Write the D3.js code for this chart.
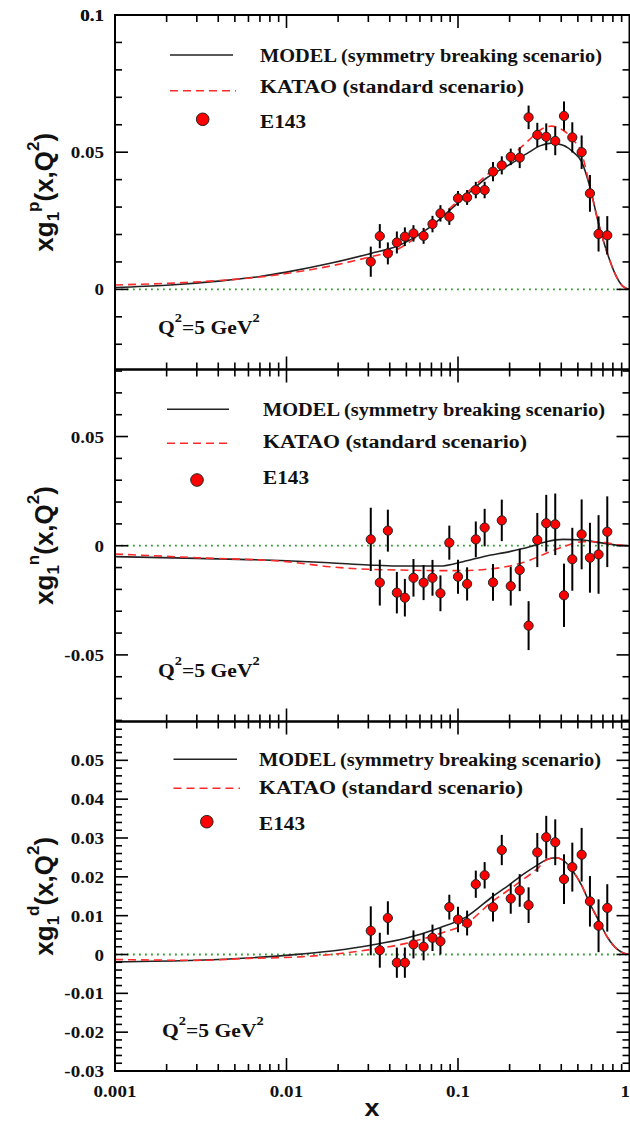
<!DOCTYPE html>
<html><head><meta charset="utf-8">
<script src="https://cdn.jsdelivr.net/npm/d3@7/dist/d3.min.js"></script>
<style>body{margin:0;background:#fff}svg{display:block}</style>
</head><body><svg id="c" width="630" height="1121"></svg>
<script>
// ---------- DATA ----------
const xE143 = [0.031,0.035,0.039,0.044,0.049,0.055,0.063,0.071,0.079,0.089,0.100,0.113,0.127,0.143,0.160,0.180,0.203,0.229,0.258,0.290,0.327,0.369,0.415,0.464,0.526,0.588,0.660,0.742];

const g1pVal = [0.0101,0.0194,0.0131,0.0171,0.0192,0.0204,0.0195,0.0238,0.0277,0.0265,0.0332,0.0335,0.0362,0.0362,0.0429,0.0452,0.0483,0.0480,0.0627,0.0563,0.0556,0.0541,0.0632,0.0554,0.0500,0.0350,0.0202,0.0197];
const g1pErr = [0.0055,0.0044,0.0040,0.0040,0.0034,0.0030,0.0029,0.0030,0.0030,0.0030,0.0027,0.0027,0.0030,0.0030,0.0035,0.0033,0.0030,0.0038,0.0043,0.0044,0.0049,0.0052,0.0053,0.0055,0.0061,0.0067,0.0064,0.0070];

const g1nVal = [0.0029,-0.0169,0.0069,-0.0215,-0.0238,-0.0147,-0.0169,-0.0147,-0.0218,0.0014,-0.0142,-0.0175,0.0029,0.0083,-0.0168,0.0116,-0.0185,-0.0111,-0.0366,0.0026,0.0103,0.0098,-0.0227,-0.0062,0.0052,-0.0055,-0.0040,0.0064];
const g1nErr = [0.0145,0.0105,0.0096,0.0095,0.0086,0.0086,0.0080,0.0082,0.0082,0.0078,0.0078,0.0076,0.0082,0.0086,0.0084,0.0095,0.0089,0.0097,0.0112,0.0124,0.0130,0.0141,0.0145,0.0144,0.0160,0.0160,0.0180,0.0162];

const g1dVal = [0.0061,0.0011,0.0094,-0.0021,-0.0021,0.0026,0.0020,0.0043,0.0034,0.0122,0.0090,0.0081,0.0181,0.0204,0.0122,0.0269,0.0144,0.0165,0.0127,0.0263,0.0302,0.0289,0.0194,0.0225,0.0257,0.0137,0.0074,0.0120];
const g1dErr = [0.0063,0.0045,0.0043,0.0039,0.0039,0.0036,0.0035,0.0034,0.0034,0.0032,0.0033,0.0032,0.0035,0.0034,0.0037,0.0039,0.0039,0.0042,0.0046,0.0050,0.0055,0.0059,0.0064,0.0063,0.0069,0.0065,0.0068,0.0061];

// model curves
const pModelX = [0.001,0.002,0.004,0.007,0.01,0.018,0.031,0.044,0.069,0.107,0.146,0.2,0.26,0.3,0.35,0.41,0.47,0.526,0.5875,0.66,0.742,0.84,0.92,1];
const pModelY = [0.0007,0.0015,0.003,0.0047,0.0063,0.0095,0.0131,0.0157,0.0228,0.0332,0.0405,0.0455,0.0500,0.0523,0.0533,0.0525,0.0500,0.0465,0.0374,0.0240,0.0132,0.0046,0.0010,0];
const pKataoY = [0.0016,0.0022,0.0032,0.0045,0.0058,0.0085,0.0119,0.0145,0.0232,0.0340,0.0415,0.0480,0.0545,0.0580,0.0595,0.0580,0.0545,0.0496,0.0374,0.0240,0.0132,0.0046,0.0010,0];

const nModelX = [0.001,0.003,0.01,0.0178,0.03,0.0438,0.0783,0.107,0.146,0.2,0.262,0.327,0.41,0.535,0.67,0.84,1];
const nModelY = [-0.0050,-0.0058,-0.0069,-0.0078,-0.0088,-0.0093,-0.0093,-0.0073,-0.0047,-0.0027,-0.0005,0.0018,0.0029,0.0026,0.0014,0.0003,0];
const nKataoY = [-0.0038,-0.0055,-0.0073,-0.0096,-0.0108,-0.0111,-0.0114,-0.0114,-0.0108,-0.0093,-0.0066,-0.0035,-0.0005,0.0018,0.0018,0.0004,0];

const dModelX = [0.001,0.003,0.006,0.012,0.02,0.031,0.049,0.0783,0.1118,0.16,0.2,0.229,0.29,0.327,0.37,0.41,0.464,0.526,0.5875,0.66,0.742,0.84,0.92,1];
const dModelY = [-0.0019,-0.0015,-0.0009,0.0001,0.0011,0.0024,0.0041,0.0069,0.0097,0.0150,0.0180,0.0200,0.0230,0.0244,0.0249,0.0243,0.0217,0.0178,0.0131,0.0088,0.0045,0.0015,0.0004,0];
const dKataoY = [-0.0013,-0.0015,-0.0010,-0.0006,0.0002,0.0013,0.0028,0.0054,0.0080,0.0138,0.0168,0.0187,0.0221,0.0243,0.0249,0.0243,0.0217,0.0178,0.0131,0.0088,0.0045,0.0015,0.0004,0];

const xTickLabels = ["0.001","0.01","0.1","1"];
const xTickVals = [0.001,0.01,0.1,1];
const legendLabels = [["MODEL"," (symmetry breaking scenario)"],["KATAO"," (standard scenario)"],["E143",""]];

// ---------- LAYOUT ----------
const SX = 1.12; // horizontal stretch of text
const X0 = 115, X1 = 629.5;
const serif = "'Liberation Serif','Times New Roman',serif";
const sans = "'Liberation Sans',Arial,sans-serif";
const legendWidths = [342, 264, 46];
const panels = [
  {top:15, bottom:369.5, domain:[-0.0292,0.1], major:[0,0.05,0.1], labels:["0","0.05","0.1"], minor:d3.range(-0.02,0.0951,0.01),
   val:g1pVal, err:g1pErr, mx:pModelX, my:pModelY, ky:pKataoY, sup:"p",
   leg:{l1:[170,233,55], l2:[170,236,90.7], mk:[202.7,119.3], tx:260, ty:[61.5,92.5,128]}, q:[158,334]},
  {top:369.5, bottom:721.5, domain:[-0.0805,0.0807], major:[-0.05,0,0.05], labels:["-0.05","0","0.05"], minor:d3.range(-0.08,0.0801,0.01),
   val:g1nVal, err:g1nErr, mx:nModelX, my:nModelY, ky:nKataoY, sup:"n",
   leg:{l1:[167,229,409.3], l2:[167,232,443.3], mk:[197,480], tx:263, ty:[416,448,484]}, q:[158,677]},
  {top:721.5, bottom:1071, domain:[-0.03,0.06], major:d3.range(-0.03,0.0501,0.01), labels:["-0.03","-0.02","-0.01","0","0.01","0.02","0.03","0.04","0.05"], minor:d3.range(-0.028,0.0591,0.002),
   val:g1dVal, err:g1dErr, mx:dModelX, my:dModelY, ky:dKataoY, sup:"d",
   leg:{l1:[173.5,237,759.3], l2:[173.5,240,788.3], mk:[206.8,821.7], tx:259, ty:[765.5,794,830]}, q:[162,1037]}
];

const svg = d3.select("#c");
svg.append("rect").attr("width",630).attr("height",1121).attr("fill","#fff");
const x = d3.scaleLog().domain([0.001,1]).range([X0,X1]);

function stext(g, px, py, anchor, size, weight, family, sx){
  return g.append("text").attr("transform",`translate(${px},${py}) scale(${sx||SX},1)`)
    .attr("text-anchor",anchor).attr("font-size",size).attr("font-weight",weight)
    .attr("font-family",family).attr("fill","#111");
}

const xMinor = [];
[0.001,0.01,0.1].forEach(d=>{for(let k=2;k<=9;k++) xMinor.push(d*k);});

panels.forEach((p,i)=>{
  const g = svg.append("g");
  const y = d3.scaleLinear().domain(p.domain).range([p.bottom,p.top]);

  // zero line
  g.append("line").attr("x1",X0).attr("x2",X1).attr("y1",y(0)).attr("y2",y(0))
    .attr("stroke","#2f9e2f").attr("stroke-width",1.8).attr("stroke-dasharray","1.8,4.2");

  // curves
  const line = d3.line().x(d=>x(d[0])).y(d=>y(d[1])).curve(d3.curveMonotoneX);
  g.append("path").attr("d",line(p.mx.map((v,j)=>[v,p.my[j]]))).attr("fill","none")
    .attr("stroke","#222").attr("stroke-width",1.6);
  g.append("path").attr("d",line(p.mx.map((v,j)=>[v,p.ky[j]]))).attr("fill","none")
    .attr("stroke","#ff2a2a").attr("stroke-width",1.6).attr("stroke-dasharray","8,5");

  // data
  const pts = xE143.map((v,j)=>({x:v,y:p.val[j],e:p.err[j]}));
  g.selectAll("line.eb").data(pts).enter().append("line")
    .attr("x1",d=>x(d.x)).attr("x2",d=>x(d.x)).attr("y1",d=>y(d.y-d.e)).attr("y2",d=>y(d.y+d.e))
    .attr("stroke","#000").attr("stroke-width",2);
  g.selectAll("circle.pt").data(pts).enter().append("circle")
    .attr("cx",d=>x(d.x)).attr("cy",d=>y(d.y)).attr("r",4.6)
    .attr("fill","#f00").attr("stroke","#222").attr("stroke-width",1);

  // frame
  g.append("rect").attr("x",X0).attr("y",p.top).attr("width",X1-X0).attr("height",p.bottom-p.top)
    .attr("fill","none").attr("stroke","#000").attr("stroke-width",2);

  // y ticks
  p.minor.forEach(v=>{
    if (p.major.some(m=>Math.abs(m-v)<1e-9)) return;
    const yy = y(v); if (yy<p.top+1||yy>p.bottom-1) return;
    g.append("line").attr("x1",X0).attr("x2",X0+7).attr("y1",yy).attr("y2",yy).attr("stroke","#000").attr("stroke-width",1.6);
    g.append("line").attr("x1",X1-7).attr("x2",X1).attr("y1",yy).attr("y2",yy).attr("stroke","#000").attr("stroke-width",1.6);
  });
  p.major.forEach((v,j)=>{
    const yy = y(v);
    g.append("line").attr("x1",X0).attr("x2",X0+13).attr("y1",yy).attr("y2",yy).attr("stroke","#000").attr("stroke-width",1.6);
    g.append("line").attr("x1",X1-13).attr("x2",X1).attr("y1",yy).attr("y2",yy).attr("stroke","#000").attr("stroke-width",1.6);
    stext(g,104,yy+6,"end",17,"bold",serif).text(p.labels[j]);
  });
  if (i===0) stext(g,104,y(0.1)+6,"end",17,"bold",serif).text("0.1");

  // x ticks (top and bottom, inward)
  xMinor.forEach(v=>{
    g.append("line").attr("x1",x(v)).attr("x2",x(v)).attr("y1",p.bottom).attr("y2",p.bottom-7).attr("stroke","#000").attr("stroke-width",1.6);
    g.append("line").attr("x1",x(v)).attr("x2",x(v)).attr("y1",p.top).attr("y2",p.top+7).attr("stroke","#000").attr("stroke-width",1.6);
  });
  [0.01,0.1].forEach(v=>{
    g.append("line").attr("x1",x(v)).attr("x2",x(v)).attr("y1",p.bottom).attr("y2",p.bottom-13).attr("stroke","#000").attr("stroke-width",1.6);
    g.append("line").attr("x1",x(v)).attr("x2",x(v)).attr("y1",p.top).attr("y2",p.top+13).attr("stroke","#000").attr("stroke-width",1.6);
  });

  // legend
  const L = p.leg;
  g.append("line").attr("x1",L.l1[0]).attr("x2",L.l1[1]).attr("y1",L.l1[2]).attr("y2",L.l1[2]).attr("stroke","#222").attr("stroke-width",1.6);
  g.append("line").attr("x1",L.l2[0]).attr("x2",L.l2[1]).attr("y1",L.l2[2]).attr("y2",L.l2[2]).attr("stroke","#ff2a2a").attr("stroke-width",1.6).attr("stroke-dasharray","8,5");
  g.append("circle").attr("cx",L.mk[0]).attr("cy",L.mk[1]).attr("r",6.3).attr("fill","#f00").attr("stroke","#222").attr("stroke-width",1);
  legendLabels.forEach((lab,j)=>{
    const t = g.append("text").attr("x",L.tx).attr("y",L.ty[j])
      .attr("font-size",18).attr("font-weight","bold").attr("font-family",serif).attr("fill","#111")
      .attr("textLength",legendWidths[j]).attr("lengthAdjust","spacingAndGlyphs")
      .text(lab[0]+lab[1]);
  });

  // Q^2 label
  const q = stext(g,p.q[0],p.q[1],"start",18,"bold",serif,1.2);
  q.append("tspan").text("Q");
  q.append("tspan").attr("font-size",12).attr("dy",-12).text("2");
  q.append("tspan").attr("dy",12).text("=5 GeV");
  q.append("tspan").attr("font-size",12).attr("dy",-12).text("2");

  // y title
  const cy = (p.top+p.bottom)/2;
  const t = g.append("text").attr("transform",`translate(53,${cy}) rotate(-90)`)
    .attr("text-anchor","middle").attr("font-size",26).attr("font-weight","bold")
    .attr("font-family",sans).attr("fill","#111");
  t.append("tspan").text("xg");
  t.append("tspan").attr("font-size",17).attr("dy",6).text("1");
  t.append("tspan").attr("font-size",17).attr("dy",-20).text(p.sup);
  t.append("tspan").attr("dy",14).text("(x,Q");
  t.append("tspan").attr("font-size",17).attr("dy",-14).text("2");
  t.append("tspan").attr("dy",14).text(")");
});

// x tick labels (bottom panel)
const gx = svg.append("g");
xTickVals.forEach((v,j)=>{
  const last = j===xTickVals.length-1;
  stext(gx,last?630:x(v),1096.5,last?"end":"middle",17,"bold",serif).text(xTickLabels[j]);
});
// x title
stext(gx,372,1116,"middle",24,"bold",sans).text("x");
</script>
</body></html>
